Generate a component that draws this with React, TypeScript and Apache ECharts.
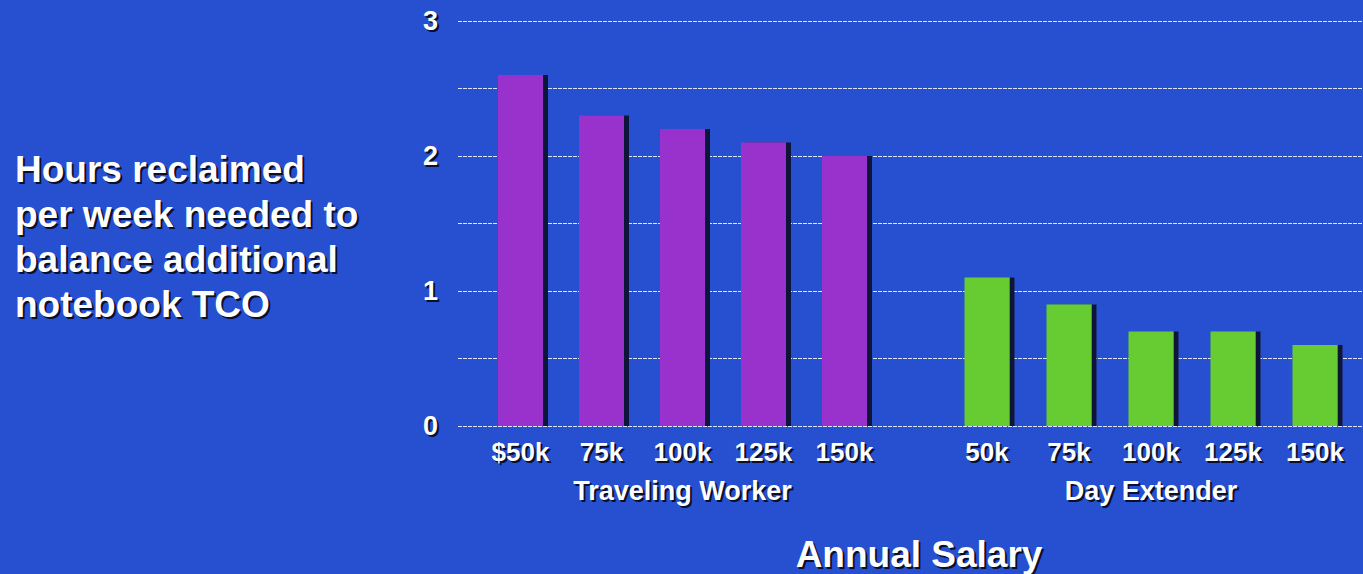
import React, { useEffect, useRef } from "react";
import * as echarts from "echarts";

const travelingCategories = ["$50k", "75k", "100k", "125k", "150k"];
const dayExtenderCategories = ["50k", "75k", "100k", "125k", "150k"];
const travelingValues = [2.6, 2.3, 2.2, 2.1, 2.0];
const dayExtenderValues = [1.1, 0.9, 0.7, 0.7, 0.6];
const groupNames = ["Traveling Worker", "Day Extender"];
const yTitleLines = ["Hours reclaimed", "per week needed to", "balance additional", "notebook TCO"];
const xTitle = "Annual Salary";

const BG = "#2650CF";
const SHADOW = "#0A0F2A";
const FONT = "'Liberation Sans', Arial, sans-serif";

export default function App() {
  const ref = useRef<HTMLDivElement>(null);
  useEffect(() => {
    if (!ref.current) return;
    const chart = echarts.init(ref.current, null, { renderer: "svg" });
    const yBase = { type: "value", min: 0, max: 3, interval: 0.5 };
    const labelStyle = (color: string, size: number) => ({
      color,
      fontFamily: FONT,
      fontWeight: "bold",
      fontSize: size,
    });
    // grids: 0..2 main, 3..5 shadow copies shifted by (2,2)
    const gridDefs = (d: number) => [
      { left: 458 + d, right: -d, top: 21 + d, bottom: 148 - d },
      { left: 480 + d, width: 405, top: 21 + d, bottom: 148 - d },
      { left: 946 + d, width: 410, top: 21 + d, bottom: 148 - d },
    ];
    const catAxis = (gridIndex: number, data: string[], name: string, shadow: boolean) => ({
      type: "category",
      gridIndex,
      position: "bottom",
      data,
      name,
      z: shadow ? 0 : 2,
      nameLocation: "middle",
      nameGap: 51,
      nameTextStyle: labelStyle(shadow ? SHADOW : "#fff", 27),
      axisLine: { show: false },
      axisTick: { show: false },
      axisLabel: {
        ...labelStyle(shadow ? SHADOW : "#fff", 26),
        margin: 13,
        interval: 0,
      },
    });
    const yLabelAxis = (gridIndex: number, shadow: boolean) => ({
      ...yBase,
      gridIndex,
      position: "left",
      z: shadow ? 0 : 2,
      axisLine: { show: false },
      axisTick: { show: false },
      axisLabel: {
        ...labelStyle(shadow ? SHADOW : "#fff", 27),
        margin: 20,
        formatter: (v: number) => (Number.isInteger(v) ? String(v) : ""),
      },
      splitLine: {
        show: !shadow,
        lineStyle: { color: "rgba(255,255,255,0.85)", width: 1.2, type: [4, 1] },
      },
    });
    const barStyle = (color: string) => ({
      color,
      shadowColor: "#0B1638",
      shadowOffsetX: 5,
      shadowOffsetY: 0,
      shadowBlur: 0,
    });
    const leftTitle = (color: string, d: number) => ({
      type: "text",
      left: 15 + d,
      top: 147 + d,
      z: d ? 0 : 1,
      style: { text: yTitleLines.join("\n"), fill: color, font: `bold 37px ${FONT}`, lineHeight: 45 },
    });
    const bottomTitle = (color: string, d: number) => ({
      type: "text",
      x: 919 + d,
      y: 554 + d,
      z: d ? 0 : 1,
      style: {
        text: xTitle,
        fill: color,
        font: `bold 37px ${FONT}`,
        align: "center",
        verticalAlign: "middle",
      },
    });
    chart.setOption({
      animation: false,
      backgroundColor: BG,
      grid: [...gridDefs(0), ...gridDefs(2)],
      xAxis: [
        { type: "category", gridIndex: 0, data: [""], show: false },
        catAxis(1, travelingCategories, groupNames[0], false),
        catAxis(2, dayExtenderCategories, groupNames[1], false),
        { type: "category", gridIndex: 3, data: [""], show: false },
        catAxis(4, travelingCategories, groupNames[0], true),
        catAxis(5, dayExtenderCategories, groupNames[1], true),
      ],
      yAxis: [
        yLabelAxis(0, false),
        { ...yBase, gridIndex: 1, show: false },
        { ...yBase, gridIndex: 2, show: false },
        yLabelAxis(3, true),
        { ...yBase, gridIndex: 4, show: false },
        { ...yBase, gridIndex: 5, show: false },
      ],
      series: [
        {
          type: "bar",
          xAxisIndex: 1,
          yAxisIndex: 1,
          data: travelingValues,
          barWidth: 45,
          itemStyle: barStyle("#9933CC"),
        },
        {
          type: "bar",
          xAxisIndex: 2,
          yAxisIndex: 2,
          data: dayExtenderValues,
          barWidth: 45,
          itemStyle: barStyle("#66CC33"),
        },
      ],
      graphic: [
        leftTitle(SHADOW, 2),
        leftTitle("#fff", 0),
        bottomTitle(SHADOW, 2),
        bottomTitle("#fff", 0),
      ],
    });
    return () => chart.dispose();
  }, []);
  return (
    <div
      ref={ref}
      style={{ position: "fixed", left: 0, top: 0, width: 1363, height: 574 }}
    />
  );
}
